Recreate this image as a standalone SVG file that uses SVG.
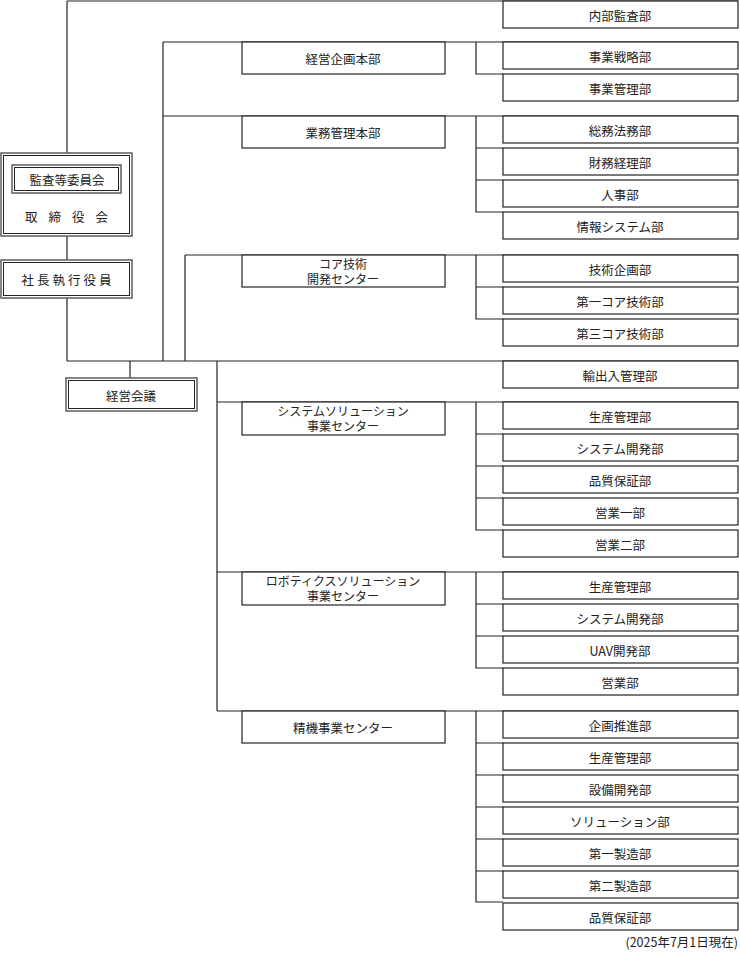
<svg xmlns="http://www.w3.org/2000/svg" width="740" height="954" viewBox="0 0 740 954">
<style>
text{font-family:"Noto Sans CJK JP","Noto Sans",sans-serif;font-size:12.5px;fill:#222;text-anchor:middle;dominant-baseline:central}
.t{font-size:12px}
.b{fill:#fff;stroke:#222;stroke-width:1.2}
.o{fill:#fff;stroke:#666;stroke-width:1.6}
.i{fill:none;stroke:#222;stroke-width:1}
#c path{fill:none;stroke:#222;stroke-width:1.2}
</style>
<rect width="740" height="954" fill="#fff"/>
<g id="c">
<path d="M67 1V165M67 236V260M67 298V361M130 361V378"/>
<path d="M67 1H738M163 42H738M163 116H738M185 255H738M67 361H738M217 402H738M217 572H738M217 711H738"/>
<path d="M163 42V361M185 255V361M217 361V711"/>
<path d="M476 42V74H503"/>
<path d="M476 116V212H503M476 148H503M476 180H503"/>
<path d="M476 255V319H503M476 287H503"/>
<path d="M476 402V530H503M476 434H503M476 466H503M476 498H503"/>
<path d="M476 572V668H503M476 604H503M476 636H503"/>
<path d="M476 711V902H503M476 743H503M476 775H503M476 807H503M476 839H503M476 871H503"/>
</g>
<g id="board"><rect class="o" x="1" y="153" width="131" height="83"/><rect class="i" x="3.5" y="155.5" width="126" height="78"/>
<rect class="o" x="12" y="165" width="109" height="28"/><rect class="i" x="14.5" y="167.5" width="104" height="23"/>
<text x="67" y="179">監査等委員会</text><text x="72" y="216" letter-spacing="11">取締役会</text></g>
<g id="ceo"><rect class="o" x="1" y="260" width="131" height="38"/><rect class="i" x="3.5" y="262.5" width="126" height="33"/><text x="68" y="279" letter-spacing="3">社長執行役員</text></g>
<g id="mgmt"><rect class="o" x="66" y="378" width="131" height="33"/><rect class="i" x="68.5" y="380.5" width="126" height="28"/><text x="131" y="395">経営会議</text></g>
<g id="h1"><rect class="b" x="242" y="42" width="203" height="32"/><text x="343" y="58">経営企画本部</text></g>
<g id="h2"><rect class="b" x="242" y="116" width="203" height="32"/><text x="343" y="132">業務管理本部</text></g>
<g id="h3"><rect class="b" x="242" y="255" width="203" height="32"/><text class="t" x="343" y="263">コア技術</text><text class="t" x="343" y="278">開発センター</text></g>
<g id="h4"><rect class="b" x="242" y="402" width="203" height="33"/><text class="t" x="343" y="410">システムソリューション</text><text class="t" x="343" y="425">事業センター</text></g>
<g id="h5"><rect class="b" x="242" y="572" width="203" height="33"/><text class="t" x="343" y="580">ロボティクスソリューション</text><text class="t" x="343" y="595">事業センター</text></g>
<g id="h6"><rect class="b" x="242" y="711" width="203" height="32"/><text x="343" y="727">精機事業センター</text></g>
<g id="depts">
<g id="d1"><rect class="b" x="503" y="1" width="235" height="27"/><text x="620" y="15">内部監査部</text></g>
<g id="d2"><rect class="b" x="503" y="42" width="235" height="27"/><text x="620" y="56">事業戦略部</text></g>
<g id="d3"><rect class="b" x="503" y="74" width="235" height="27"/><text x="620" y="88">事業管理部</text></g>
<g id="d4"><rect class="b" x="503" y="116" width="235" height="27"/><text x="620" y="130">総務法務部</text></g>
<g id="d5"><rect class="b" x="503" y="148" width="235" height="27"/><text x="620" y="162">財務経理部</text></g>
<g id="d6"><rect class="b" x="503" y="180" width="235" height="27"/><text x="620" y="194">人事部</text></g>
<g id="d7"><rect class="b" x="503" y="212" width="235" height="27"/><text x="620" y="226">情報システム部</text></g>
<g id="d8"><rect class="b" x="503" y="255" width="235" height="27"/><text x="620" y="269">技術企画部</text></g>
<g id="d9"><rect class="b" x="503" y="287" width="235" height="27"/><text x="620" y="301">第一コア技術部</text></g>
<g id="d10"><rect class="b" x="503" y="319" width="235" height="27"/><text x="620" y="333">第三コア技術部</text></g>
<g id="d11"><rect class="b" x="503" y="361" width="235" height="27"/><text x="620" y="375">輸出入管理部</text></g>
<g id="d12"><rect class="b" x="503" y="402" width="235" height="27"/><text x="620" y="416">生産管理部</text></g>
<g id="d13"><rect class="b" x="503" y="434" width="235" height="27"/><text x="620" y="448">システム開発部</text></g>
<g id="d14"><rect class="b" x="503" y="466" width="235" height="27"/><text x="620" y="480">品質保証部</text></g>
<g id="d15"><rect class="b" x="503" y="498" width="235" height="27"/><text x="620" y="512">営業一部</text></g>
<g id="d16"><rect class="b" x="503" y="530" width="235" height="27"/><text x="620" y="544">営業二部</text></g>
<g id="d17"><rect class="b" x="503" y="572" width="235" height="27"/><text x="620" y="586">生産管理部</text></g>
<g id="d18"><rect class="b" x="503" y="604" width="235" height="27"/><text x="620" y="618">システム開発部</text></g>
<g id="d19"><rect class="b" x="503" y="636" width="235" height="27"/><text x="620" y="650">UAV開発部</text></g>
<g id="d20"><rect class="b" x="503" y="668" width="235" height="27"/><text x="620" y="682">営業部</text></g>
<g id="d21"><rect class="b" x="503" y="711" width="235" height="27"/><text x="620" y="725">企画推進部</text></g>
<g id="d22"><rect class="b" x="503" y="743" width="235" height="27"/><text x="620" y="757">生産管理部</text></g>
<g id="d23"><rect class="b" x="503" y="775" width="235" height="27"/><text x="620" y="789">設備開発部</text></g>
<g id="d24"><rect class="b" x="503" y="807" width="235" height="27"/><text x="620" y="821">ソリューション部</text></g>
<g id="d25"><rect class="b" x="503" y="839" width="235" height="27"/><text x="620" y="853">第一製造部</text></g>
<g id="d26"><rect class="b" x="503" y="871" width="235" height="27"/><text x="620" y="885">第二製造部</text></g>
<g id="d27"><rect class="b" x="503" y="903" width="235" height="27"/><text x="620" y="917">品質保証部</text></g>
</g>
<text x="738" y="941" style="text-anchor:end">(2025年7月1日現在)</text>
</svg>
